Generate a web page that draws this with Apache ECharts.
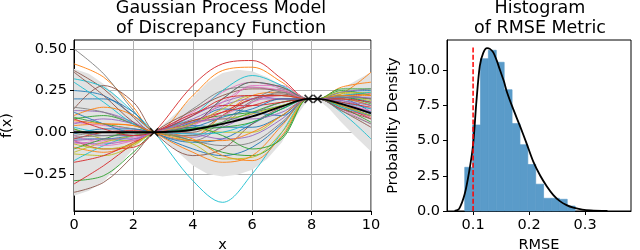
<!DOCTYPE html>
<html>
<head>
<meta charset="utf-8">
<script src="https://cdn.jsdelivr.net/npm/echarts@6/dist/echarts.min.js"></script>
<style>
html,body{margin:0;padding:0;background:#fff;}
#chart{width:640px;height:250px;}
</style>
</head>
<body>
<div id="chart"></div>
<script>
// ---------- Left panel: GP model ----------
const sampleX = [0, 1, 2, 2.7, 4, 5, 6, 7, 7.9, 8.2, 9, 10];
const samples = [
  [0.25, 0.22, 0.10, 0, -0.10, -0.14, -0.09, 0.05, 0.2, 0.2, 0.24, 0.25],
  [0.41, 0.33, 0.15, 0, -0.02, 0.10, 0.22, 0.24, 0.2, 0.2, 0.17, 0.09],
  [-0.29, -0.26, -0.12, 0, 0.07, 0.10, 0.12, 0.16, 0.2, 0.2, 0.21, 0.20],
  [-0.05, -0.10, -0.09, 0, 0.28, 0.41, 0.43, 0.32, 0.2, 0.2, 0.14, 0.10],
  [0.13, 0.12, 0.06, 0, -0.03, 0.03, 0.11, 0.18, 0.2, 0.2, 0.19, 0.14],
  [0.37, 0.26, 0.09, 0, 0.00, 0.10, 0.20, 0.23, 0.2, 0.2, 0.16, 0.10],
  [-0.07, -0.05, -0.03, 0, 0.12, 0.24, 0.30, 0.26, 0.2, 0.2, 0.15, 0.09],
  [0.50, 0.35, 0.13, 0, -0.05, 0.04, 0.18, 0.24, 0.2, 0.2, 0.17, 0.12],
  [-0.13, -0.14, -0.08, 0, 0.06, 0.08, 0.11, 0.16, 0.2, 0.2, 0.21, 0.19],
  [0.32, 0.27, 0.12, 0, -0.29, -0.42, -0.25, 0.00, 0.2, 0.2, 0.12, -0.04],
  [0.20, 0.20, 0.12, 0, -0.06, -0.04, 0.05, 0.14, 0.2, 0.2, 0.21, 0.18],
  [0.04, 0.05, 0.04, 0, 0.22, 0.37, 0.39, 0.30, 0.2, 0.2, 0.23, 0.36],
  [0.09, 0.05, 0.02, 0, -0.05, -0.12, -0.14, -0.03, 0.2, 0.2, 0.25, 0.22],
  [-0.31, -0.20, -0.07, 0, 0.05, 0.12, 0.20, 0.22, 0.2, 0.2, 0.16, 0.08],
  [-0.06, -0.07, -0.04, 0, 0.08, 0.16, 0.20, 0.20, 0.2, 0.2, 0.18, 0.12],
  [0.14, 0.28, 0.18, 0, -0.14, -0.10, 0.05, 0.15, 0.2, 0.2, 0.22, 0.20],
  [0.06, 0.04, 0.02, 0, 0.04, 0.15, 0.28, 0.28, 0.2, 0.2, 0.14, 0.05],
  [-0.02, 0.00, 0.00, 0, 0.14, 0.25, 0.27, 0.24, 0.2, 0.2, 0.16, 0.10],
  [0.02, -0.04, -0.05, 0, 0.02, 0.00, 0.00, 0.10, 0.2, 0.2, 0.23, 0.24],
  [-0.17, -0.08, -0.02, 0, 0.10, 0.25, 0.34, 0.28, 0.2, 0.2, 0.18, 0.14],
  [-0.04, -0.04, -0.02, 0, 0.04, 0.03, 0.03, 0.10, 0.2, 0.2, 0.20, 0.12],
  [-0.09, -0.12, -0.07, 0, -0.04, -0.14, -0.17, -0.02, 0.2, 0.2, 0.27, 0.30],
  [0.08, 0.10, 0.05, 0, 0.02, 0.06, 0.12, 0.18, 0.2, 0.2, 0.15, 0.06],
  [-0.18, -0.14, -0.06, 0, 0.11, 0.16, 0.16, 0.18, 0.2, 0.2, 0.22, 0.23],
  [0.05, 0.08, 0.05, 0, -0.01, -0.04, -0.02, 0.08, 0.2, 0.2, 0.24, 0.26],
  [-0.36, -0.30, -0.14, 0, 0.13, 0.22, 0.26, 0.25, 0.2, 0.2, 0.13, 0.03],
  [-0.02, -0.06, -0.05, 0, 0.05, 0.10, 0.18, 0.22, 0.2, 0.2, 0.17, 0.11],
  [0.15, 0.12, 0.05, 0, -0.02, 0.06, 0.19, 0.26, 0.2, 0.2, 0.13, 0.05],
  [-0.12, -0.06, -0.02, 0, -0.07, -0.16, -0.15, 0.00, 0.2, 0.2, 0.24, 0.22],
  [0.30, 0.18, 0.05, 0, 0.05, 0.20, 0.30, 0.27, 0.2, 0.2, 0.15, 0.10],
  [-0.01, 0.02, 0.02, 0, 0.06, 0.14, 0.12, 0.10, 0.2, 0.2, 0.20, 0.16],
  [0.10, 0.15, 0.10, 0, -0.12, -0.18, -0.14, 0.04, 0.2, 0.2, 0.20, 0.16],
  [0.02, -0.02, -0.02, 0, 0.03, -0.02, -0.10, -0.04, 0.2, 0.2, 0.26, 0.26],
  [-0.04, 0.00, 0.01, 0, 0.07, 0.12, 0.16, 0.20, 0.2, 0.2, 0.18, 0.15],
  [0.01, -0.02, -0.02, 0, 0.10, 0.18, 0.22, 0.20, 0.2, 0.2, 0.19, 0.16],
  [0.36, 0.22, 0.06, 0, 0.05, 0.20, 0.30, 0.27, 0.2, 0.2, 0.14, 0.08],
  [-0.05, -0.08, -0.05, 0, 0.05, 0.18, 0.27, 0.25, 0.2, 0.2, 0.17, 0.13],
  [-0.03, -0.02, -0.01, 0, -0.05, -0.08, -0.06, 0.06, 0.2, 0.2, 0.22, 0.20],
  [-0.07, -0.10, -0.07, 0, 0.05, 0.14, 0.22, 0.22, 0.2, 0.2, 0.16, 0.10],
  [0.03, 0.00, 0.00, 0, -0.01, 0.00, 0.06, 0.14, 0.2, 0.2, 0.22, 0.24],
  [0.12, 0.05, 0.00, 0, 0.03, 0.09, 0.14, 0.20, 0.2, 0.2, 0.17, 0.11],
  [0.07, 0.05, 0.04, 0, -0.05, -0.05, 0.00, 0.10, 0.2, 0.2, 0.22, 0.22],
  [-0.10, -0.04, 0.00, 0, 0.02, 0.03, 0.06, 0.14, 0.2, 0.2, 0.21, 0.17],
  [0.08, 0.02, -0.02, 0, 0.10, 0.20, 0.22, 0.22, 0.2, 0.2, 0.20, 0.18],
  [-0.05, -0.04, -0.04, 0, 0.06, 0.08, 0.08, 0.12, 0.2, 0.2, 0.21, 0.21]
];
const bandX     = [0, 0.5, 1, 1.5, 2, 2.4, 2.7, 3, 3.5, 4, 4.5, 5, 5.5, 6, 6.5, 7, 7.5, 7.9, 8.05, 8.2, 8.6, 9, 9.5, 10];
const bandUpper = [0.38, 0.35, 0.29, 0.2, 0.1, 0.035, 0.0, 0.045, 0.125, 0.21, 0.3, 0.355, 0.375, 0.365, 0.33, 0.28, 0.235, 0.2, 0.205, 0.2, 0.225, 0.26, 0.31, 0.36];
const bandLower = [-0.38, -0.35, -0.295, -0.2, -0.1, -0.035, 0.0, -0.04, -0.12, -0.2, -0.25, -0.265, -0.255, -0.225, -0.16, -0.06, 0.1, 0.2, 0.195, 0.2, 0.14, 0.06, -0.03, -0.116];
const meanX = [0, 1, 2, 2.7, 3.5, 4, 5, 6, 7, 7.9, 8.2, 9, 10];
const meanY = [0, 0, 0, 0, 0.005, 0.015, 0.05, 0.095, 0.155, 0.2, 0.2, 0.17, 0.114];
const obsX = [2.7, 7.9, 8.2];
const obsY = [0, 0.2, 0.2];
const leftXTicks = [0, 2, 4, 6, 8, 10];
const leftYTicks = [-0.25, 0, 0.25, 0.5];

// ---------- Right panel: RMSE histogram ----------
const binEdges = [0.0851, 0.0992, 0.1133, 0.1273, 0.1414, 0.1555, 0.1696, 0.1837, 0.1977, 0.2118, 0.2259, 0.2400, 0.2541, 0.2681, 0.2822];
const binDensity = [3.1, 6.1, 10.8, 11.4, 10.55, 8.6, 6.2, 4.7, 3.3, 1.9, 0.9, 0.9, 0.83, 0.35];
const pdfX = [0.067, 0.075, 0.085, 0.093, 0.1, 0.106, 0.112, 0.118, 0.125, 0.13, 0.136, 0.142, 0.148, 0.155, 0.16, 0.17, 0.184, 0.195, 0.2075, 0.22, 0.2315, 0.243, 0.255, 0.267, 0.279, 0.295, 0.31, 0.34];
const pdfY = [0, 0.15, 1.2, 2.8, 4.7, 7.8, 10.3, 11.2, 11.55, 11.5, 11.25, 10.7, 10.0, 9.2, 8.5, 7.4, 6.0, 4.85, 3.5, 2.5, 1.76, 1.15, 0.7, 0.42, 0.24, 0.1, 0.04, 0.0];
const thresholdX = 0.1;
const thresholdTop = 11.6;
const rightXTicks = [0.1, 0.2, 0.3];
const rightYTicks = [0, 2.5, 5, 7.5, 10];

const tab10 = ['#1f77b4','#ff7f0e','#2ca02c','#d62728','#9467bd','#8c564b','#e377c2','#7f7f7f','#bcbd22','#17becf'];
const FONT = 'DejaVu Sans';
const TICK_FS = 14.5;

const chart = echarts.init(document.getElementById('chart'), null, {renderer: 'canvas'});

function axisCommon(ticks, fmt) {
  return {
    axisLine: {show: true, onZero: false, lineStyle: {color: '#000', width: 1}},
    axisTick: {show: true, inside: false, length: 4, customValues: ticks, lineStyle: {color: '#000', width: 1}},
    axisLabel: {customValues: ticks, formatter: fmt, color: '#000', fontFamily: FONT, fontSize: TICK_FS, margin: 7},
  };
}

const series = [];
// confidence band as a polygon through the axis scales
series.push({
  type: 'custom', xAxisIndex: 0, yAxisIndex: 0, silent: true, clip: true,
  data: [[bandX[0], bandLower[0]]],
  renderItem: function (params, api) {
    const pts = [];
    for (let i = 0; i < bandX.length; i++) pts.push(api.coord([bandX[i], bandUpper[i]]));
    for (let i = bandX.length - 1; i >= 0; i--) pts.push(api.coord([bandX[i], bandLower[i]]));
    return {type: 'polygon', shape: {points: pts}, style: {fill: '#e2e2e2'}};
  }, z: 1
});
samples.forEach((s, k) => {
  series.push({
    type: 'line', xAxisIndex: 0, yAxisIndex: 0,
    data: sampleX.map((x, i) => [x, s[i]]), smooth: 0.35, showSymbol: false, silent: true,
    lineStyle: {color: tab10[k % 10], width: 0.9}, z: 2
  });
});
series.push({
  type: 'line', xAxisIndex: 0, yAxisIndex: 0,
  data: meanX.map((x, i) => [x, meanY[i]]), smooth: 0.35, showSymbol: false, silent: true,
  lineStyle: {color: '#000', width: 1.8}, z: 3
});
series.push({
  type: 'scatter', xAxisIndex: 0, yAxisIndex: 0,
  data: obsX.map((x, i) => [x, obsY[i]]),
  symbol: 'path://M0,0L10,10M10,0L0,10', symbolSize: 8,
  itemStyle: {color: 'rgba(0,0,0,0)', borderColor: '#000', borderWidth: 1.6}, z: 4, silent: true
});
// histogram
series.push({
  type: 'custom', xAxisIndex: 1, yAxisIndex: 1,
  data: binDensity.map((h, i) => [binEdges[i], binEdges[i + 1], h]),
  encode: {x: [0, 1], y: 2},
  renderItem: function (params, api) {
    const p0 = api.coord([api.value(0), api.value(2)]);
    const p1 = api.coord([api.value(1), 0]);
    return {type: 'rect', shape: {x: p0[0], y: p0[1], width: p1[0] - p0[0], height: p1[1] - p0[1]},
            style: {fill: '#5a9bc9', stroke: '#5a9bc9', lineWidth: 0.7}};
  }, z: 1, silent: true
});
series.push({
  type: 'line', xAxisIndex: 1, yAxisIndex: 1,
  data: pdfX.map((x, i) => [x, pdfY[i]]), smooth: 0.3, showSymbol: false, silent: true,
  lineStyle: {color: '#000', width: 1.8}, z: 3
});
series.push({
  type: 'line', xAxisIndex: 1, yAxisIndex: 1,
  data: [[thresholdX, 0], [thresholdX, thresholdTop]], showSymbol: false, silent: true,
  lineStyle: {color: '#ff0000', width: 1.5, type: [5, 2.2]}, z: 4
});

const option = {
  animation: false,
  backgroundColor: '#fff',
  title: [
    {text: 'Gaussian Process Model\nof Discrepancy Function', left: 221, top: -1, textAlign: 'center', padding: 0,
     textStyle: {fontFamily: FONT, fontSize: 17.5, fontWeight: 'normal', color: '#000', lineHeight: 19.5}},
    {text: 'Histogram\nof RMSE Metric', left: 540, top: -1, textAlign: 'center', padding: 0,
     textStyle: {fontFamily: FONT, fontSize: 17.5, fontWeight: 'normal', color: '#000', lineHeight: 19.5}}
  ],
  grid: [
    {left: 74, right: 269, top: 40, bottom: 39, containLabel: false, outerBoundsMode: 'none',
     show: true, borderColor: '#000', borderWidth: 1, backgroundColor: 'transparent'},
    {left: 447, right: 9, top: 40, bottom: 39, containLabel: false, outerBoundsMode: 'none',
     show: true, borderColor: '#000', borderWidth: 1, backgroundColor: 'transparent'}
  ],
  xAxis: [
    Object.assign({type: 'value', gridIndex: 0, min: 0, max: 10, interval: 2,
      name: 'x', nameLocation: 'middle', nameGap: 24,
      nameTextStyle: {fontFamily: FONT, fontSize: TICK_FS, color: '#000'},
      splitLine: {show: true, lineStyle: {color: '#b0b0b0', width: 1}}},
      axisCommon(leftXTicks, v => String(v))),
    Object.assign({type: 'value', gridIndex: 1, min: 0.0534, max: 0.382,
      name: 'RMSE', nameLocation: 'middle', nameGap: 22,
      nameTextStyle: {fontFamily: FONT, fontSize: TICK_FS, color: '#000'},
      splitLine: {show: false}},
      axisCommon(rightXTicks, v => v.toFixed(1)))
  ],
  yAxis: [
    Object.assign({type: 'value', gridIndex: 0, min: -0.472, max: 0.553,
      name: 'f(x)', nameLocation: 'middle', nameGap: 59, nameRotate: 90,
      nameTextStyle: {fontFamily: FONT, fontSize: TICK_FS, color: '#000'},
      splitLine: {show: true, lineStyle: {color: '#b0b0b0', width: 1}}},
      axisCommon(leftYTicks, v => (v < 0 ? '\u2212' + (-v).toFixed(2) : v.toFixed(2)))),
    Object.assign({type: 'value', gridIndex: 1, min: 0, max: 12.13,
      name: 'Probability Density', nameLocation: 'middle', nameGap: 46, nameRotate: 90,
      nameTextStyle: {fontFamily: FONT, fontSize: TICK_FS, color: '#000'},
      splitLine: {show: false}},
      axisCommon(rightYTicks, v => v.toFixed(1)))
  ],
  series: series
};
chart.setOption(option);
</script>
</body>
</html>
